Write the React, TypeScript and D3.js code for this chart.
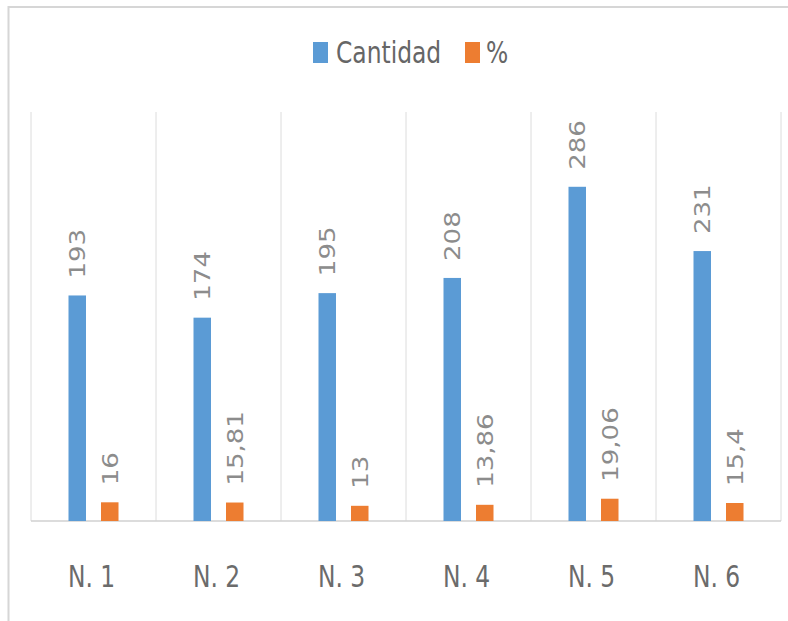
import React from 'react';
import * as d3 from 'd3';

const categories = ['N. 1', 'N. 2', 'N. 3', 'N. 4', 'N. 5', 'N. 6'];
const cantidad = [193, 174, 195, 208, 286, 231];
const porcentaje = [16, 15.81, 13, 13.86, 19.06, 15.4];
const porcentajeLabels = ['16', '15,81', '13', '13,86', '19,06', '15,4'];
const seriesNames = ['Cantidad', '%'];
const colors = ['#5b9bd5', '#ed7d31'];

const W = 788, H = 621;
const margin = { top: 112, right: 7, bottom: 100, left: 31 };
const font = '"DejaVu Sans", Verdana, sans-serif';
const sx = 0.78; // the picture is squeezed horizontally

const App = () => {
  const x = d3.scaleBand().domain(categories).range([margin.left, W - margin.right]);
  const y = d3.scaleLinear().domain([0, 350]).range([H - margin.bottom, margin.top]);
  const barW = 17.5;
  const offset = 16.25;

  const series = [
    { values: cantidad, labels: cantidad.map(String), dx: -offset, color: colors[0] },
    { values: porcentaje, labels: porcentajeLabels, dx: offset, color: colors[1] },
  ];

  const base = y(0);
  const bounds = categories.map((c) => x(c)).concat([x.range()[1]]);

  return (
    <svg width={W} height={H} style={{ position: 'absolute', left: 0, top: 0, background: '#fff' }}>
      {/* chart frame */}
      <rect x={8.5} y={7} width={820} height={660} fill="none" stroke="#d6d6d6" strokeWidth={2} />

      {/* vertical gridlines */}
      {bounds.map((b, i) => (
        <line key={i} x1={b} x2={b} y1={y(350)} y2={base} stroke="#dcdcdc" strokeWidth={1} />
      ))}
      <line x1={x.range()[0]} x2={x.range()[1]} y1={base} y2={base} stroke="#d0d0d0" strokeWidth={1.5} />

      {series.map((s, si) => (
        <g key={si}>
          {categories.map((c, i) => {
            const cx = x(c) + x.bandwidth() / 2 + s.dx;
            const top = y(s.values[i]);
            return (
              <g key={c}>
                <rect x={cx - barW / 2} y={top} width={barW} height={base - top} fill={s.color} />
                <text
                  transform={`translate(${cx},${top - 17}) scale(0.84,1) rotate(-90)`}
                  dy="0.36em"
                  fontFamily={font}
                  fontSize={26}
                  fill="#8c8c8c"
                >
                  {s.labels[i]}
                </text>
              </g>
            );
          })}
        </g>
      ))}

      {/* category labels */}
      {categories.map((c) => (
        <text
          key={c}
          transform={`translate(${x(c) + x.bandwidth() / 2 - 2},587) scale(${sx},1)`}
          textAnchor="middle"
          fontFamily={font}
          fontSize={30}
          fill="#6b6b6b"
        >
          {c}
        </text>
      ))}

      {/* legend */}
      <g>
        <rect x={313} y={42} width={15} height={21} fill={colors[0]} />
        <text transform={`translate(336,63) scale(${sx},1)`} fontFamily={font} fontSize={30} fill="#666">
          {seriesNames[0]}
        </text>
        <rect x={465} y={42} width={15} height={21} fill={colors[1]} />
        <text transform={`translate(486,63) scale(${sx},1)`} fontFamily={font} fontSize={30} fill="#666">
          {seriesNames[1]}
        </text>
      </g>
    </svg>
  );
};

export default App;
